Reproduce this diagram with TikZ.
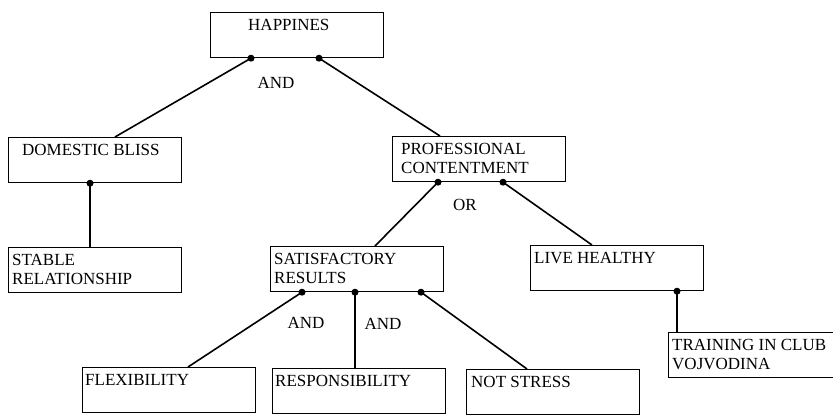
\documentclass[tikz,border=0pt]{standalone}
\usepackage{fontspec}
\setmainfont{Liberation Serif}
\usetikzlibrary{calc}

\begin{document}
\begin{tikzpicture}[x=1pt,y=-1pt,font=\fontsize{17}{19.5}\selectfont,
  box/.style={draw,line width=1.2pt,anchor=north west,minimum width=173pt,
    minimum height=45pt,inner sep=0pt},
  boxtext/.style={anchor=north west,inner sep=0pt,align=left,label distance=0pt,
    xshift=#1,yshift=-7pt},
  boxtext/.default=4pt,
  dot/.style={circle,fill,inner sep=0pt,minimum size=7pt},
  link/.style={line width=1.6pt},
  stem/.style={line width=2.4pt},
  gate/.style={inner sep=0pt}]
      \useasboundingbox (0,0) rectangle (833,415);

      \node[box,label={[boxtext=38pt]north west:HAPPINES}] (happy) at (210,12) {};
      \node[box,label={[boxtext=14pt]north west:DOMESTIC BLISS}] (bliss) at (8,137) {};
      \node[box,label={[boxtext]north west:{STABLE\\RELATIONSHIP}}] (stable) at (8,247) {};
      \node[box,label={[boxtext=9pt]north west:{PROFESSIONAL\\CONTENTMENT}}] (prof) at (392,136) {};
      \node[box,label={[boxtext]north west:{SATISFACTORY\\RESULTS}}] (satis) at (270,246) {};
      \node[box,label={[boxtext]north west:LIVE HEALTHY}] (live) at (530,245) {};
      \node[box,minimum width=190pt,label={[boxtext]north west:{TRAINING IN CLUB\\VOJVODINA}}] (club) at (668,332) {};
      \node[box,label={[boxtext=3pt]north west:FLEXIBILITY}] (flex) at (82,367) {};
      \node[box,label={[boxtext=3pt]north west:RESPONSIBILITY}] (resp) at (272,368) {};
      \node[box,label={[boxtext=5pt]north west:NOT STRESS}] (stress) at (466,369) {};

      \node[dot] (happy-l) at ([xshift=41pt]happy.south west) {};
      \node[dot] (happy-r) at ([xshift=109pt]happy.south west) {};
      \node[dot] (bliss-d) at ([xshift=82pt]bliss.south west) {};
      \node[dot] (prof-l) at ([xshift=46pt]prof.south west) {};
      \node[dot] (prof-r) at ([xshift=111pt]prof.south west) {};
      \node[dot] (satis-l) at ([xshift=32pt]satis.south west) {};
      \node[dot] (satis-m) at ([xshift=85pt]satis.south west) {};
      \node[dot] (satis-r) at ([xshift=151pt]satis.south west) {};
      \node[dot] (live-d) at ([xshift=147pt]live.south west) {};

      \coordinate (bliss-in) at ([xshift=107pt]bliss.north west);
      \coordinate (stable-in) at ([xshift=82pt]stable.north west);
      \coordinate (prof-in) at ([xshift=48pt]prof.north west);
      \coordinate (satis-in) at ([xshift=105pt]satis.north west);
      \coordinate (live-in) at ([xshift=62pt]live.north west);
      \coordinate (club-in) at ([xshift=9pt]club.north west);
      \coordinate (flex-in) at ([xshift=106pt]flex.north west);
      \coordinate (resp-in) at ([xshift=83pt]resp.north west);
      \coordinate (stress-in) at ([xshift=61pt]stress.north west);

      \path[link] (happy-l.center) edge (bliss-in);
      \path[link] (happy-r.center) edge (prof-in);
      \path[stem] (bliss-d.center) edge (stable-in);
      \path[link] (prof-l.center) edge (satis-in);
      \path[link] (prof-r.center) edge (live-in);
      \path[stem] (live-d.center) edge (club-in);
      \path[link] (satis-l.center) edge (flex-in);
      \path[stem] (satis-m.center) edge (resp-in);
      \path[link] (satis-r.center) edge (stress-in);

      \node[gate] (and-top) at (276,83) {AND};
      \node[gate] (or-mid) at (465,205) {OR};
      \node[gate] (and-left) at (306,323) {AND};
      \node[gate] (and-right) at (383,324) {AND};
    \end{tikzpicture}
\end{document}
